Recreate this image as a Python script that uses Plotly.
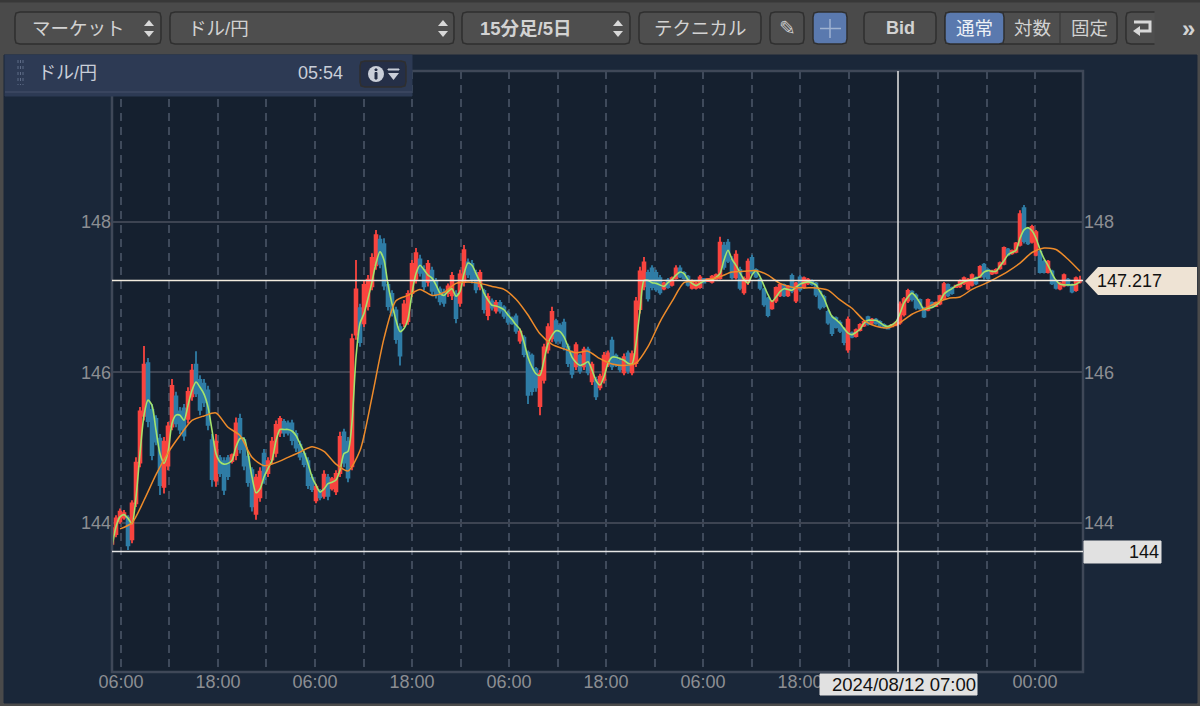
import plotly.graph_objects as go

# 30 minute bars, 15 min originals are too fine to read
opens = [
    143.72, 143.85, 144.02, 144.07, 144.07, 143.78, 144.26, 144.80, 145.42, 146.12,
    145.50, 145.38, 145.12, 144.48, 144.76, 145.28, 145.68, 145.48, 145.52, 145.38,
    145.68, 146.10, 145.90, 145.85, 145.76, 145.10, 144.56, 144.86, 144.82, 144.86,
    144.82, 144.90, 145.38, 145.10, 144.88, 144.70, 144.12, 144.34, 144.92, 144.66,
    144.84, 144.93, 145.20, 145.34, 145.32, 145.32, 145.18, 145.04, 144.92, 144.82,
    144.60, 144.30, 144.42, 144.36, 144.60, 144.46, 144.42, 144.66, 145.20, 145.08,
    144.75, 146.50, 146.85, 146.65, 146.88, 147.14, 147.42, 147.76, 147.70, 147.16,
    147.04, 146.82, 146.60, 146.65, 146.68, 147.05, 147.24, 147.50, 147.36, 147.20,
    147.35, 147.20, 147.10, 147.06, 147.05, 147.02, 147.04, 146.92, 147.20, 147.46,
    147.44, 147.32, 147.14, 147.08, 146.76, 146.94, 146.82, 146.92, 146.86, 146.78,
    146.72, 146.74, 146.42, 146.46, 146.26, 146.22, 146.04, 145.55, 145.90, 146.30,
    146.45, 146.68, 146.62, 146.66, 146.34, 146.26, 146.08, 146.22, 146.08, 146.30,
    145.88, 145.90, 145.80, 145.90, 146.10, 146.42, 146.22, 146.16, 146.00, 146.25,
    146.00, 146.12, 146.84, 147.14, 147.32, 147.38, 147.32, 147.25, 147.11, 147.22,
    147.16, 147.25, 147.38, 147.32, 147.27, 147.12, 147.12, 147.13, 147.24, 147.21,
    147.20, 147.24, 147.25, 147.68, 147.72, 147.50, 147.26, 147.36, 147.06, 147.20,
    147.52, 147.36, 147.23, 147.10, 146.98, 146.85, 146.95, 147.02, 147.16, 147.02,
    147.28, 146.95, 147.26, 147.13, 147.18, 147.21, 147.18, 147.07, 147.00, 146.80,
    146.73, 146.72, 146.66, 146.58, 146.30, 146.52, 146.48, 146.56, 146.62, 146.73,
    146.66, 146.70, 146.67, 146.63, 146.60, 146.61, 146.63, 146.66, 146.77, 146.95,
    147.07, 147.02, 146.96, 146.85, 146.83, 146.92, 146.88, 146.91, 146.98, 147.16,
    147.12, 147.13, 147.14, 147.18, 147.11, 147.16, 147.25, 147.27, 147.43, 147.36,
    147.31, 147.32, 147.38, 147.44, 147.63, 147.58, 147.60, 147.69, 148.18, 147.90,
    147.73, 147.56, 147.60, 147.47, 147.33, 147.34, 147.21, 147.11, 147.15, 147.23,
    147.16, 147.09, 147.20,
]
highs = [
    143.97, 144.10, 144.19, 144.17, 144.10, 144.30, 144.87, 145.54, 146.35, 146.19,
    145.58, 145.43, 145.18, 145.14, 145.34, 145.91, 145.74, 145.54, 145.58, 145.80,
    146.11, 146.28, 145.96, 145.91, 145.82, 145.18, 145.18, 144.90, 144.87, 144.90,
    144.92, 145.40, 145.45, 145.14, 144.92, 144.74, 144.65, 144.74, 144.98, 144.87,
    145.14, 145.36, 145.42, 145.38, 145.36, 145.37, 145.23, 145.09, 144.96, 144.87,
    144.65, 144.52, 144.45, 144.70, 144.65, 144.61, 144.70, 145.21, 145.25, 145.14,
    146.51, 147.49, 146.91, 147.22, 147.29, 147.58, 147.89, 147.82, 147.78, 147.20,
    147.09, 146.87, 146.65, 146.96, 147.09, 147.49, 147.65, 147.56, 147.42, 147.49,
    147.40, 147.25, 147.14, 147.11, 147.18, 147.33, 147.09, 147.36, 147.69, 147.51,
    147.49, 147.36, 147.36, 147.11, 147.05, 146.98, 146.96, 146.96, 146.89, 146.82,
    146.74, 146.78, 146.58, 146.49, 146.29, 146.25, 146.07, 146.03, 146.38, 146.65,
    146.87, 146.71, 146.65, 146.71, 146.38, 146.29, 146.40, 146.25, 146.34, 146.34,
    146.14, 145.94, 145.98, 146.27, 146.29, 146.47, 146.25, 146.20, 146.25, 146.29,
    146.29, 147.00, 147.40, 147.53, 147.36, 147.42, 147.36, 147.29, 147.20, 147.25,
    147.27, 147.42, 147.42, 147.34, 147.29, 147.23, 147.20, 147.29, 147.25, 147.25,
    147.29, 147.31, 147.80, 147.73, 147.77, 147.54, 147.62, 147.40, 147.27, 147.51,
    147.56, 147.38, 147.25, 147.12, 147.00, 146.96, 147.14, 147.18, 147.18, 147.16,
    147.31, 147.20, 147.29, 147.27, 147.25, 147.23, 147.20, 147.09, 147.03, 146.83,
    146.76, 146.74, 146.69, 146.60, 146.74, 146.54, 146.58, 146.65, 146.69, 146.75,
    146.72, 146.72, 146.69, 146.65, 146.61, 146.63, 146.68, 146.94, 147.00, 147.11,
    147.09, 147.05, 146.98, 146.87, 146.98, 146.94, 146.94, 147.03, 147.20, 147.18,
    147.14, 147.16, 147.23, 147.27, 147.25, 147.31, 147.27, 147.42, 147.45, 147.38,
    147.36, 147.38, 147.47, 147.67, 147.65, 147.63, 147.73, 148.15, 148.22, 147.93,
    147.96, 147.89, 147.62, 147.49, 147.49, 147.36, 147.23, 147.20, 147.31, 147.25,
    147.18, 147.27, 147.28,
]
lows = [
    143.68, 143.81, 143.99, 144.04, 143.64, 143.73, 144.21, 144.74, 145.36, 145.27,
    144.83, 145.03, 144.37, 144.39, 144.70, 145.23, 145.27, 145.18, 145.09, 145.32,
    145.62, 145.67, 145.43, 145.54, 145.23, 144.48, 144.48, 144.61, 144.37, 144.57,
    144.79, 144.83, 144.92, 144.70, 144.48, 144.15, 144.04, 144.28, 144.52, 144.61,
    144.79, 144.87, 145.14, 145.14, 145.16, 145.03, 144.94, 144.83, 144.74, 144.45,
    144.41, 144.26, 144.30, 144.32, 144.30, 144.43, 144.37, 144.61, 144.74, 144.54,
    144.70, 146.43, 146.34, 146.60, 146.82, 147.09, 147.36, 147.38, 147.09, 146.82,
    146.74, 146.38, 146.09, 146.60, 146.63, 147.00, 147.18, 147.27, 147.09, 147.14,
    147.02, 146.98, 146.89, 146.87, 147.00, 146.96, 146.65, 146.87, 147.14, 147.25,
    147.18, 147.05, 147.09, 146.78, 146.69, 146.82, 146.78, 146.78, 146.71, 146.63,
    146.63, 146.51, 146.38, 146.20, 145.58, 145.69, 145.74, 145.43, 145.85, 146.25,
    146.40, 146.38, 146.38, 146.29, 146.07, 145.92, 146.03, 145.98, 146.03, 145.96,
    145.83, 145.63, 145.76, 145.85, 146.07, 146.03, 146.07, 146.00, 145.96, 145.98,
    145.96, 146.07, 146.78, 147.09, 146.94, 147.09, 147.07, 147.03, 147.09, 147.11,
    147.14, 147.23, 147.25, 147.23, 147.14, 147.10, 147.10, 147.11, 147.18, 147.20,
    147.18, 147.23, 147.23, 147.36, 147.45, 147.23, 147.23, 147.09, 147.03, 147.16,
    147.29, 147.25, 147.09, 146.87, 146.73, 146.83, 146.92, 147.00, 147.00, 147.00,
    147.05, 146.92, 147.07, 147.11, 147.16, 147.15, 147.00, 146.83, 146.85, 146.63,
    146.48, 146.58, 146.52, 146.36, 146.26, 146.45, 146.46, 146.54, 146.60, 146.62,
    146.64, 146.63, 146.60, 146.58, 146.57, 146.60, 146.61, 146.63, 146.74, 146.92,
    146.94, 146.83, 146.83, 146.72, 146.81, 146.85, 146.87, 146.89, 146.96, 147.00,
    147.03, 147.12, 147.12, 147.16, 147.09, 147.14, 147.16, 147.25, 147.23, 147.23,
    147.29, 147.30, 147.36, 147.42, 147.54, 147.56, 147.58, 147.67, 147.71, 147.69,
    147.71, 147.54, 147.31, 147.31, 147.31, 147.16, 147.10, 147.09, 147.13, 147.14,
    147.05, 147.07, 147.18,
]
closes = [
    143.93, 144.06, 144.15, 144.13, 143.70, 144.26, 144.80, 145.48, 146.10, 145.35,
    144.90, 145.08, 144.50, 145.08, 145.28, 145.82, 145.32, 145.24, 145.16, 145.74,
    146.02, 145.72, 145.50, 145.60, 145.30, 144.58, 145.08, 144.66, 144.44, 144.62,
    144.90, 145.32, 144.98, 144.76, 144.54, 144.22, 144.60, 144.68, 144.58, 144.82,
    145.08, 145.30, 145.38, 145.20, 145.20, 145.10, 145.00, 144.88, 144.78, 144.50,
    144.45, 144.48, 144.34, 144.64, 144.36, 144.58, 144.65, 145.14, 144.80, 144.60,
    146.44, 147.10, 146.40, 147.16, 147.23, 147.52, 147.82, 147.44, 147.15, 146.88,
    146.80, 146.44, 146.22, 146.90, 147.04, 147.44, 147.58, 147.32, 147.14, 147.44,
    147.08, 147.03, 146.94, 146.92, 147.14, 147.28, 146.72, 147.30, 147.62, 147.30,
    147.24, 147.10, 147.32, 146.84, 147.00, 146.86, 146.92, 146.82, 146.75, 146.67,
    146.65, 146.55, 146.54, 146.24, 145.70, 145.75, 145.80, 145.98, 146.33, 146.60,
    146.80, 146.42, 146.42, 146.34, 146.12, 145.98, 146.36, 146.02, 146.30, 146.00,
    146.10, 145.68, 145.94, 146.22, 146.25, 146.08, 146.10, 146.04, 146.20, 146.02,
    146.24, 146.94, 147.34, 147.46, 146.98, 147.13, 147.10, 147.06, 147.18, 147.13,
    147.25, 147.38, 147.27, 147.25, 147.16, 147.20, 147.18, 147.26, 147.19, 147.24,
    147.27, 147.29, 147.72, 147.40, 147.48, 147.26, 147.56, 147.12, 147.24, 147.47,
    147.32, 147.27, 147.12, 146.90, 146.76, 146.94, 147.12, 147.16, 147.02, 147.14,
    147.08, 147.18, 147.10, 147.25, 147.23, 147.17, 147.03, 146.86, 146.88, 146.66,
    146.52, 146.60, 146.55, 146.40, 146.70, 146.47, 146.56, 146.63, 146.67, 146.64,
    146.70, 146.65, 146.62, 146.60, 146.58, 146.63, 146.66, 146.90, 146.97, 147.08,
    146.97, 146.86, 146.85, 146.74, 146.96, 146.87, 146.92, 147.01, 147.17, 147.02,
    147.05, 147.15, 147.21, 147.25, 147.23, 147.29, 147.18, 147.40, 147.27, 147.25,
    147.34, 147.36, 147.45, 147.65, 147.56, 147.61, 147.71, 148.10, 147.74, 147.71,
    147.93, 147.86, 147.33, 147.33, 147.47, 147.18, 147.12, 147.18, 147.29, 147.16,
    147.07, 147.25, 147.22,
]
# fast average (green), one value per bar
short_ma = [
    143.68, 143.95, 144.08, 144.11, 144.06, 143.99, 144.34, 144.92, 145.43, 145.63,
    145.56, 145.23, 144.92, 144.79, 144.94, 145.32, 145.43, 145.43, 145.36, 145.56,
    145.76, 145.87, 145.80, 145.71, 145.54, 145.23, 144.92, 144.81, 144.78, 144.79,
    144.83, 145.01, 145.12, 145.12, 144.92, 144.61, 144.40, 144.45, 144.61, 144.72,
    144.83, 145.09, 145.24, 145.24, 145.24, 145.22, 145.16, 145.05, 144.94, 144.79,
    144.61, 144.50, 144.41, 144.45, 144.52, 144.54, 144.57, 144.70, 144.92, 144.95,
    145.34, 146.20, 146.65, 146.78, 146.98, 147.20, 147.45, 147.60, 147.49, 147.16,
    146.91, 146.69, 146.54, 146.58, 146.71, 147.05, 147.31, 147.42, 147.36, 147.29,
    147.25, 147.16, 147.05, 147.02, 147.07, 147.11, 147.01, 147.07, 147.31, 147.45,
    147.42, 147.31, 147.20, 147.05, 146.96, 146.89, 146.88, 146.86, 146.83, 146.76,
    146.70, 146.63, 146.57, 146.40, 146.20, 146.07, 145.98, 145.96, 146.16, 146.38,
    146.49, 146.55, 146.54, 146.47, 146.34, 146.20, 146.13, 146.09, 146.11, 146.14,
    146.03, 145.89, 145.83, 145.94, 146.12, 146.20, 146.20, 146.18, 146.16, 146.12,
    146.11, 146.38, 146.82, 147.22, 147.22, 147.19, 147.18, 147.16, 147.14, 147.19,
    147.23, 147.29, 147.33, 147.31, 147.23, 147.18, 147.15, 147.18, 147.21, 147.23,
    147.23, 147.26, 147.31, 147.49, 147.62, 147.50, 147.42, 147.32, 147.23, 147.18,
    147.29, 147.35, 147.27, 147.15, 147.03, 146.94, 147.00, 147.07, 147.11, 147.10,
    147.09, 147.13, 147.17, 147.19, 147.20, 147.19, 147.16, 147.07, 146.98, 146.85,
    146.74, 146.70, 146.65, 146.58, 146.52, 146.50, 146.53, 146.57, 146.65, 146.69,
    146.69, 146.69, 146.66, 146.62, 146.61, 146.63, 146.67, 146.78, 146.92, 147.00,
    147.05, 147.00, 146.92, 146.83, 146.85, 146.86, 146.89, 146.94, 147.04, 147.08,
    147.11, 147.15, 147.17, 147.20, 147.22, 147.23, 147.25, 147.27, 147.33, 147.35,
    147.34, 147.34, 147.41, 147.48, 147.56, 147.59, 147.62, 147.78, 147.89, 147.92,
    147.88, 147.78, 147.63, 147.51, 147.42, 147.31, 147.22, 147.17, 147.16, 147.16,
    147.16, 147.17, 147.20,
]
# slow average (orange), read every third bar starting at bar 2
long_ma = [
    143.92, 144.00, 144.30, 144.64, 144.93, 145.16, 145.36, 145.42, 145.46, 145.27,
    145.16, 144.87, 144.76, 144.80, 144.87, 144.94, 145.01, 144.95, 144.78, 144.69,
    144.96, 145.67, 146.45, 146.95, 147.02, 147.10, 147.02, 147.06, 147.18, 147.20,
    147.18, 147.14, 147.10, 146.97, 146.76, 146.51, 146.37, 146.31, 146.26, 146.28,
    146.18, 146.11, 146.09, 146.12, 146.34, 146.67, 146.94, 147.19, 147.21, 147.23,
    147.27, 147.33, 147.34, 147.35, 147.29, 147.18, 147.13, 147.12, 147.12, 147.09,
    146.96, 146.85, 146.69, 146.61, 146.59, 146.66, 146.77, 146.84, 146.92, 146.98,
    147.00, 147.10, 147.17, 147.25, 147.34, 147.45, 147.59, 147.65, 147.63, 147.50,
    147.34,
]
bar_index = list(range(len(closes)))
long_index = bar_index[2::3]
assert len(opens) == len(highs) == len(lows) == len(closes) == len(short_ma)
assert len(long_index) == len(long_ma), (len(long_index), len(long_ma))

# dashed grid positions in bar units, last stretch is closer because of the gap
tick_bars = [2.25, 14.25, 26.5, 38.5, 50.75, 63, 75, 87.25, 99.25, 111.5, 123.5,
             135.75, 147.75, 160, 172, 184.25, 206.5, 218.75, 230.75]
tick_labels = ['06:00', '', '18:00', '', '06:00', '', '18:00', '', '06:00', '',
               '18:00', '', '06:00', '', '18:00', '', '', '', '00:00']
price_ticks = [144, 146, 148]
last_price = 147.217
cross_price = 143.62
cross_bar = 196.5

# plot box in page pixels, all the chrome below is placed from these
LEFT, RIGHT, TOP, BOTTOM = 112, 1083, 71, 672
FONT = 'Liberation Sans, Noto Sans CJK JP, sans-serif'
GREY = '#8c8e93'
shapes = []
notes = []


def fx(x):
    return (x - LEFT) / (RIGHT - LEFT)


def fy(y):
    return (BOTTOM - y) / (BOTTOM - TOP)


def rect(x0, y0, x1, y1, fill, line=None, width=1, layer='above'):
    shapes.append(dict(type='rect', xref='paper', yref='paper', layer=layer,
                       x0=fx(x0), x1=fx(x1), y0=fy(y0), y1=fy(y1),
                       fillcolor=fill, line=dict(color=line or fill, width=width)))


def path(points, fill=None, line=None, width=1, close=True):
    d = 'M ' + ' L '.join(f'{fx(x):.5f},{fy(y):.5f}' for x, y in points)
    if close:
        d += ' Z'
    shapes.append(dict(type='path', xref='paper', yref='paper', path=d,
                       fillcolor=fill or 'rgba(0,0,0,0)',
                       line=dict(color=line or 'rgba(0,0,0,0)', width=width)))


def button(x0, x1, fill='#4e4e4e', y0=12, y1=44, r=5):
    pts = [(x0 + r, y0), (x1 - r, y0), (x1 - 1, y0 + 1), (x1, y0 + r),
           (x1, y1 - r), (x1 - 1, y1 - 1), (x1 - r, y1), (x0 + r, y1),
           (x0 + 1, y1 - 1), (x0, y1 - r), (x0, y0 + r), (x0 + 1, y0 + 1)]
    path(pts, fill=fill, line='#2f2f2f', width=1.5)


def label(x, y, text, size=18.5, color='#d2d2d2', anchor='center', bold=False):
    if bold:
        text = f'<b>{text}</b>'
    notes.append(dict(xref='paper', yref='paper', x=fx(x), y=fy(y), text=text,
                      showarrow=False, xanchor=anchor, yanchor='middle',
                      font=dict(family=FONT, size=size, color=color)))


def updown(x):
    path([(x - 5, 26), (x + 5, 26), (x, 20)], fill='#d8d8d8')
    path([(x - 5, 31), (x + 5, 31), (x, 37)], fill='#d8d8d8')


# window chrome, the pane and plot fill have to sit under the traces
rect(4, 55, 1197, 703, '#1a2739', layer='below')
rect(LEFT, TOP, RIGHT, BOTTOM, '#15202f', layer='below')
rect(0, 0, 1200, 2, '#383838')
button(15, 161)
label(78, 28, 'マーケット')
updown(149)
button(170, 454)
label(186, 28, 'ドル/円', anchor='left')
updown(443)
button(462, 630)
label(478, 28, '15分足/5日', bold=True, anchor='left')
updown(618)
button(639, 761)
label(700, 28, 'テクニカル')
button(770, 804)
label(787, 28, '✎', size=20, color='#c8c8c8')
button(813, 847, fill='#5a79ae')
shapes.append(dict(type='line', xref='paper', yref='paper', x0=fx(830), x1=fx(830),
                   y0=fy(19), y1=fy(38), line=dict(color='#9fb2d0', width=1.5)))
shapes.append(dict(type='line', xref='paper', yref='paper', x0=fx(820), x1=fx(841),
                   y0=fy(28.5), y1=fy(28.5), line=dict(color='#9fb2d0', width=1.5)))
button(864, 936)
label(900, 28, 'Bid', bold=True, size=18)
button(945, 1117)
button(945, 1004, fill='#5a79ae')
shapes.append(dict(type='line', xref='paper', yref='paper', x0=fx(1060), x1=fx(1060),
                   y0=fy(13), y1=fy(43), line=dict(color='#333333', width=1)))
label(974, 28, '通常', color='#eef1f6')
label(1032, 28, '対数')
label(1089, 28, '固定')
button(1126, 1166)
path([(1134, 22), (1150, 22), (1150, 31), (1138, 31)], line='#d8d8d8', width=3, close=False)
path([(1133, 31), (1140, 26), (1140, 36)], fill='#d8d8d8')
rect(1155, 6, 1176, 50, '#4a4a4a')
label(1188, 28, '»', size=24, bold=True)

# plot frame, crosshair and the last price line
rect(LEFT, TOP, RIGHT, BOTTOM, 'rgba(0,0,0,0)', line='#3f4858', width=2.5)
shapes.append(dict(type='line', xref='paper', yref='y', x0=0, x1=1, y0=last_price, y1=last_price,
                   line=dict(color='#f3ecdf', width=1.5)))
shapes.append(dict(type='line', xref='paper', yref='y', x0=0, x1=1, y0=cross_price, y1=cross_price,
                   line=dict(color='#e6e6e6', width=1.5)))
shapes.append(dict(type='line', xref='x', yref='paper', x0=cross_bar, x1=cross_bar, y0=0, y1=1,
                   line=dict(color='#e6e6e6', width=1.5)))

# panel over the top left of the chart, after the frame so it hides it
rect(5, 55, 412, 96, '#2d3a54')
shapes.append(dict(type='line', xref='paper', yref='paper', x0=fx(5), x1=fx(412),
                   y0=fy(92), y1=fy(92), line=dict(color='#46516a', width=1)))
for grip_x in [18, 20.5, 23]:
    shapes.append(dict(type='line', xref='paper', yref='paper', x0=fx(grip_x), x1=fx(grip_x),
                       y0=fy(60), y1=fy(85), line=dict(color='#5f6c87', width=1, dash='dot')))
label(36, 73, 'ドル/円', size=18, color='#c9ced8', anchor='left')
label(345, 73, '05:54', size=18, color='#c9ced8', anchor='right')
button(360, 406, fill='#252f47', y0=61, y1=87)
shapes.append(dict(type='circle', xref='paper', yref='paper', x0=fx(368), x1=fx(384),
                   y0=fy(66), y1=fy(82), fillcolor='#c9ced8', line=dict(width=0)))
rect(375, 69, 377, 70.5, '#252f47')
rect(375, 72.5, 377, 79, '#252f47')
rect(388, 69, 399, 70, '#c9ced8')
path([(388, 73), (399, 73), (393.5, 80)], fill='#c9ced8')

# tags on the axes
path([(1085, 281), (1098, 267), (1197, 267), (1197, 295), (1098, 295)], fill='#eee3d4')
label(1095, 281, '147.217', size=18, color='#111111', anchor='left')
rect(1084, 541, 1161, 563, '#e1e1e1')
label(1161, 552, '144', size=18, color='#111111', anchor='right')
rect(820, 674, 977, 695, '#e1e1e1')
label(904, 684, '2024/08/12 07:00', size=18.5, color='#111111')

fig = go.Figure()
fig.add_trace(go.Candlestick(x=bar_index, open=opens, high=highs, low=lows, close=closes,
                             whiskerwidth=0,
                             increasing=dict(line=dict(color='#f9443f', width=1.8), fillcolor='#f9443f'),
                             decreasing=dict(line=dict(color='#2f7da6', width=1.8), fillcolor='#2f7da6'),
                             hoverinfo='skip'))
fig.add_trace(go.Scatter(x=bar_index, y=short_ma, mode='lines', hoverinfo='skip',
                         line=dict(color='#a3e36c', width=1.6, shape='spline', smoothing=0.7)))
fig.add_trace(go.Scatter(x=long_index, y=long_ma, mode='lines', yaxis='y2', hoverinfo='skip',
                         line=dict(color='#ee8b2a', width=1.5, shape='spline', smoothing=0.7)))

fig.update_layout(width=1200, height=706, showlegend=False, hovermode=False,
                  paper_bgcolor='#4a4a4a', plot_bgcolor='#15202f', boxgap=0, boxmode='overlay',
                  margin=dict(l=LEFT, r=1200 - RIGHT, t=TOP, b=706 - BOTTOM, autoexpand=False),
                  font=dict(family=FONT, size=18, color=GREY),
                  shapes=shapes, annotations=notes,
                  xaxis=dict(range=[0, 242.75], rangeslider_visible=False, showline=False, zeroline=False,
                             automargin=False,
                             tickmode='array', tickvals=tick_bars, ticktext=tick_labels,
                             ticks='', ticklabelstandoff=-3,
                             showgrid=True, gridcolor='#3f4a5b', griddash='8px,6px', gridwidth=1.5),
                  yaxis=dict(range=[142.02, 150.0], tickmode='array', tickvals=price_ticks, automargin=False,
                             showgrid=True, gridcolor='#3d4452', gridwidth=1.5, zeroline=False, showline=False),
                  yaxis2=dict(range=[142.02, 150.0], overlaying='y', side='right', tickmode='array',
                              automargin=False,
                              tickvals=price_ticks, showgrid=False, zeroline=False, showline=False))

fig.write_html("out.html", config=dict(displayModeBar=False),
               post_script="document.body.style.margin='0';")
